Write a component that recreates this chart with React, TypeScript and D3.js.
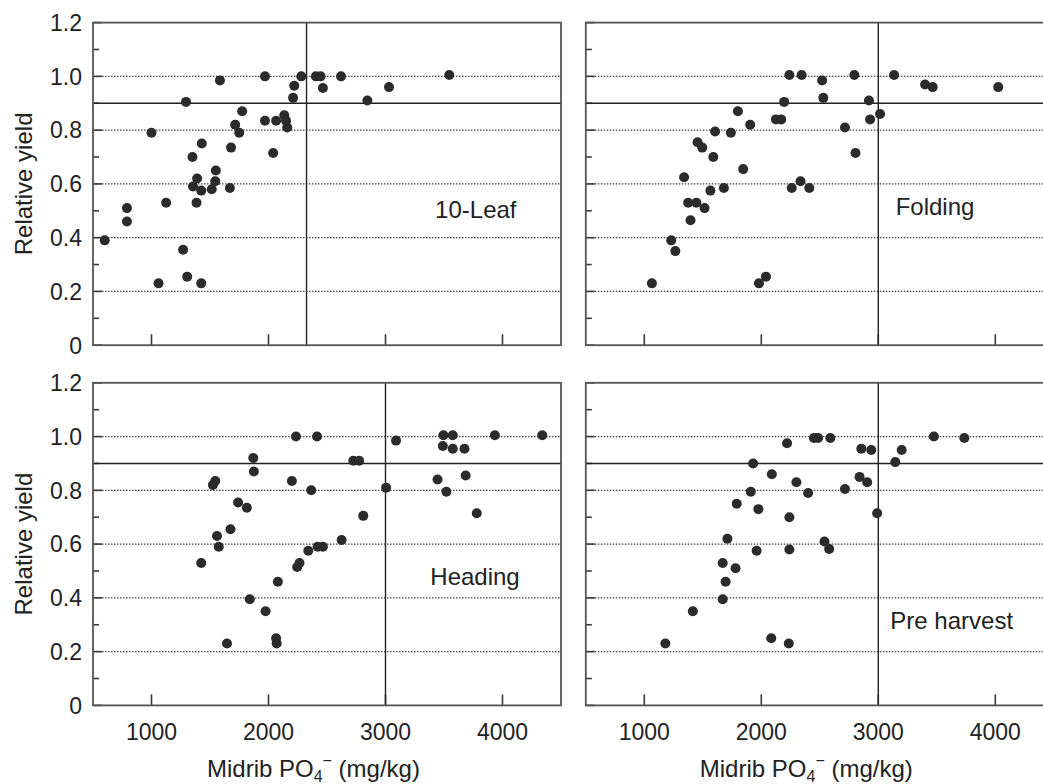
import React from 'react';
import * as d3 from 'd3';

// ---- Data (Midrib PO4- mg/kg, relative yield) ----
const leaf10: [number, number][] = [
  [600, 0.39], [790, 0.51], [790, 0.46], [1000, 0.79], [1060, 0.23], [1125, 0.53],
  [1270, 0.355], [1295, 0.905], [1305, 0.255], [1350, 0.70], [1355, 0.59], [1390, 0.62],
  [1385, 0.53], [1425, 0.23], [1430, 0.75], [1425, 0.575], [1515, 0.58], [1545, 0.61],
  [1550, 0.65], [1585, 0.985], [1670, 0.585], [1680, 0.735], [1715, 0.82], [1750, 0.79],
  [1775, 0.87], [1970, 1.0], [1970, 0.835], [2040, 0.715], [2065, 0.835], [2135, 0.855],
  [2150, 0.835], [2160, 0.81], [2210, 0.92], [2220, 0.965], [2280, 1.0], [2405, 1.0],
  [2445, 1.0], [2465, 0.957], [2620, 1.0], [2845, 0.91], [3030, 0.96], [3545, 1.005],
];

const folding: [number, number][] = [
  [1065, 0.23], [1230, 0.39], [1265, 0.35], [1340, 0.625], [1375, 0.53], [1395, 0.465],
  [1445, 0.53], [1455, 0.755], [1495, 0.735], [1515, 0.51], [1565, 0.575], [1590, 0.70],
  [1605, 0.795], [1680, 0.585], [1740, 0.79], [1800, 0.87], [1845, 0.655], [1905, 0.82],
  [1980, 0.23], [2040, 0.255], [2125, 0.84], [2170, 0.84], [2195, 0.905], [2240, 1.005],
  [2260, 0.585], [2335, 0.61], [2345, 1.005], [2410, 0.585], [2520, 0.985], [2530, 0.92],
  [2715, 0.81], [2795, 1.005], [2805, 0.715], [2920, 0.91], [2930, 0.84], [3015, 0.86],
  [3135, 1.005], [3400, 0.97], [3465, 0.96], [4025, 0.96],
];

const heading: [number, number][] = [
  [1425, 0.53], [1525, 0.82], [1545, 0.835], [1560, 0.63], [1575, 0.59], [1645, 0.23],
  [1675, 0.655], [1740, 0.755], [1815, 0.735], [1840, 0.395], [1870, 0.92], [1875, 0.87],
  [1975, 0.35], [2065, 0.25], [2070, 0.23], [2080, 0.46], [2200, 0.835], [2235, 1.0],
  [2245, 0.515], [2265, 0.53], [2340, 0.575], [2365, 0.80], [2415, 1.0], [2420, 0.59],
  [2465, 0.59], [2625, 0.615], [2725, 0.91], [2775, 0.91], [2810, 0.705], [3005, 0.81],
  [3090, 0.985], [3445, 0.84], [3495, 1.005], [3490, 0.965], [3520, 0.795], [3575, 1.005],
  [3575, 0.955], [3675, 0.955], [3685, 0.855], [3780, 0.715], [3935, 1.005], [4340, 1.005],
];

const preHarvest: [number, number][] = [
  [1180, 0.23], [1415, 0.35], [1670, 0.395], [1670, 0.53], [1695, 0.46], [1710, 0.62],
  [1780, 0.51], [1790, 0.75], [1910, 0.795], [1930, 0.90], [1960, 0.575], [1975, 0.73],
  [2085, 0.25], [2090, 0.86], [2220, 0.975], [2235, 0.23], [2240, 0.58], [2240, 0.70],
  [2300, 0.83], [2400, 0.79], [2450, 0.995], [2485, 0.995], [2590, 0.995], [2540, 0.61],
  [2580, 0.582], [2715, 0.805], [2855, 0.955], [2840, 0.85], [2905, 0.83], [2940, 0.95],
  [2990, 0.715], [3145, 0.905], [3200, 0.95], [3475, 1.0], [3735, 0.995],
];

const panelNames = ['10-Leaf', 'Folding', 'Heading', 'Pre harvest'];
const criticalX = [2325, 3000, 3000, 3000];
const criticalY = 0.9;
const xTicks = [1000, 2000, 3000, 4000];
const yMajor = [0, 0.2, 0.4, 0.6, 0.8, 1.0, 1.2];
const yMinor = [0.1, 0.3, 0.5, 0.7, 0.9, 1.1];
const yGrid = [0.2, 0.4, 0.6, 0.8, 1.0];
const yLabels = ['0', '0.2', '0.4', '0.6', '0.8', '1.0', '1.2'];
const xDomain: [number, number] = [500, 4500];
const yDomain: [number, number] = [0, 1.2];

// ---- Layout ----
const W = 1043;
const H = 784;
const PW = 468;
const lefts = [93, 585.8];
const tops = [22.6, 382.8];
const PH = 322.6;
const FONT = '"Liberation Sans", Arial, Helvetica, sans-serif';
const TEXT = '#222';
const LINE = '#3a3a3a';

const labelPos = [
  { x: 475.8, y: 218 },
  { x: 935, y: 215 },
  { x: 475, y: 585 },
  { x: 951.7, y: 629 },
];

const datasets = [leaf10, folding, heading, preHarvest];

function Panel({ idx }: { idx: number }) {
  const col = idx % 2;
  const row = Math.floor(idx / 2);
  const left = lefts[col];
  const top = tops[row];
  const bottom = top + PH;
  const x = d3.scaleLinear().domain(xDomain).range([left, left + PW]);
  const y = d3.scaleLinear().domain(yDomain).range([bottom, top]);
  const data = datasets[idx];
  const showY = col === 0;
  const showX = row === 1;
  return (
    <g>
      {yGrid.map((v) => (
        <line key={'g' + v} x1={left} x2={left + PW} y1={y(v)} y2={y(v)}
          stroke="#444" strokeWidth={1.3} strokeDasharray="1.5 1.5" />
      ))}
      {yMajor.map((v) => (
        <line key={'mj' + v} x1={left} x2={left + 9} y1={y(v)} y2={y(v)} stroke={LINE} strokeWidth={1.6} />
      ))}
      {yMinor.map((v) => (
        <line key={'mn' + v} x1={left} x2={left + 6} y1={y(v)} y2={y(v)} stroke={LINE} strokeWidth={1.6} />
      ))}
      {xTicks.map((v) => (
        <line key={'xt' + v} x1={x(v)} x2={x(v)} y1={bottom} y2={bottom - 11} stroke={LINE} strokeWidth={1.6} />
      ))}
      <line x1={left} x2={left + PW} y1={y(criticalY)} y2={y(criticalY)} stroke="#222" strokeWidth={1.4} />
      <line x1={x(criticalX[idx])} x2={x(criticalX[idx])} y1={top} y2={bottom} stroke="#222" strokeWidth={1.4} />
      <rect x={left} y={top} width={PW} height={PH} fill="none" stroke="#555" strokeWidth={1.8} />
      {data.map((d, i) => (
        <circle key={i} cx={x(d[0])} cy={y(d[1])} r={5} fill="#2b2b2b" />
      ))}
      <text x={labelPos[idx].x} y={labelPos[idx].y} textAnchor="middle" fontSize={24}
        fontFamily={FONT} fill={TEXT}>{panelNames[idx]}</text>
      {showY && yMajor.map((v, i) => (
        <text key={'yl' + v} x={82} y={y(v) + 8.3} textAnchor="end" fontSize={23}
          fontFamily={FONT} fill={TEXT}>{yLabels[i]}</text>
      ))}
      {showY && (
        <text transform={`translate(31.5,${(top + bottom) / 2}) rotate(-90)`} textAnchor="middle"
          fontSize={24} fontFamily={FONT} fill={TEXT}>Relative yield</text>
      )}
      {showX && xTicks.map((v) => (
        <text key={'xl' + v} x={x(v)} y={740} textAnchor="middle" fontSize={23}
          fontFamily={FONT} fill={TEXT}>{v}</text>
      ))}
      {showX && (
        <text x={left + 114} y={777} fontSize={24} fontFamily={FONT} fill={TEXT}>
          Midrib PO
          <tspan fontSize={16} dy={5}>4</tspan>
          <tspan fontSize={16} dy={-16}>−</tspan>
          <tspan dy={11}> (mg/kg)</tspan>
        </text>
      )}
    </g>
  );
}

export default function App() {
  return (
    <svg width={W} height={H} viewBox={`0 0 ${W} ${H}`}
      style={{ position: 'absolute', left: 0, top: 0, background: '#fff', display: 'block' }}>
      <rect x={0} y={0} width={W} height={H} fill="#fff" />
      {[0, 1, 2, 3].map((i) => <Panel key={i} idx={i} />)}
    </svg>
  );
}
